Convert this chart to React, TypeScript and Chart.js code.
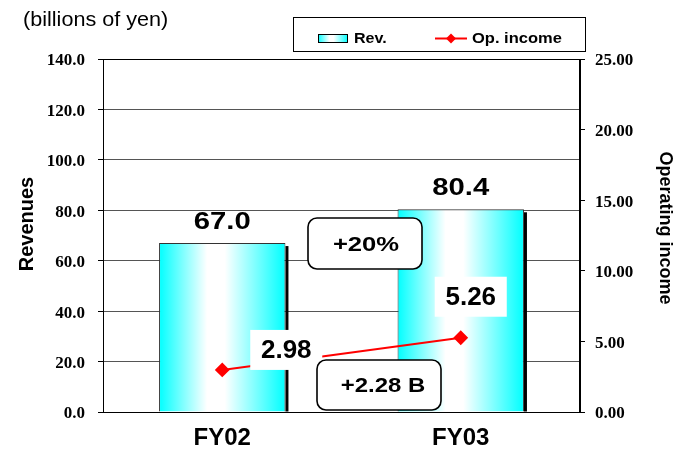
import React, { useEffect, useRef } from 'react';
import { Chart, registerables } from 'chart.js';

Chart.register(...registerables);

// ---- data ----
const categories = ['FY02', 'FY03'];
const revenues = [67.0, 80.4];
const operatingIncome = [2.98, 5.26];
const revenueAxis = { min: 0, max: 140, step: 20 };
const incomeAxis = { min: 0, max: 25, step: 5 };

const SANS = "'Liberation Sans', Arial, sans-serif";
const SERIF = "'Liberation Serif', 'Times New Roman', serif";
const BAR_PCT = 0.53;
const RED = '#FF0000';
const CYAN = '#00FFFF';

function barGradient(ctx: CanvasRenderingContext2D, x0: number, x1: number) {
  const g = ctx.createLinearGradient(x0, 0, x1, 0);
  g.addColorStop(0, CYAN);
  g.addColorStop(0.38, '#FFFFFF');
  g.addColorStop(0.52, '#FFFFFF');
  g.addColorStop(1, CYAN);
  return g;
}

// text drawn with an optional horizontal stretch
function drawText(
  ctx: CanvasRenderingContext2D,
  text: string,
  x: number,
  y: number,
  font: string,
  sx = 1,
  align: CanvasTextAlign = 'center',
  rotate = 0
) {
  ctx.save();
  ctx.translate(x, y);
  if (rotate) ctx.rotate(rotate);
  ctx.scale(sx, 1);
  ctx.font = font;
  ctx.fillStyle = '#000';
  ctx.textAlign = align;
  ctx.textBaseline = 'middle';
  ctx.fillText(text, 0, 0);
  ctx.restore();
}

function roundBox(ctx: CanvasRenderingContext2D, cx: number, cy: number, w: number, h: number, r: number) {
  const x = cx - w / 2;
  const y = cy - h / 2;
  ctx.save();
  ctx.beginPath();
  ctx.roundRect(x, y, w, h, r);
  ctx.fillStyle = '#FFFFFF';
  ctx.fill();
  ctx.lineWidth = 1.6;
  ctx.strokeStyle = '#000';
  ctx.stroke();
  ctx.restore();
}

function diamond(ctx: CanvasRenderingContext2D, x: number, y: number, r: number) {
  ctx.beginPath();
  ctx.moveTo(x, y - r);
  ctx.lineTo(x + r, y);
  ctx.lineTo(x, y + r);
  ctx.lineTo(x - r, y);
  ctx.closePath();
  ctx.fill();
}

const decorPlugin = {
  id: 'decor',
  beforeDatasetsDraw(chart: any) {
    // dark drop shadow on the right side of each bar
    const ctx = chart.ctx;
    const meta = chart.getDatasetMeta(1);
    ctx.save();
    ctx.fillStyle = '#000';
    meta.data.forEach((bar: any) => {
      const { x, y, base, width } = bar.getProps(['x', 'y', 'base', 'width'], true);
      ctx.fillRect(x + width / 2, y + 3, 3, base - y - 3);
    });
    ctx.restore();
  },
  afterDatasetsDraw(chart: any) {
    const ctx = chart.ctx;
    const bars = chart.getDatasetMeta(1).data;
    const pts = chart.getDatasetMeta(0).data;

    // revenue values above the bars
    bars.forEach((bar: any, i: number) => {
      drawText(ctx, revenues[i].toFixed(1), bar.x, bar.y - 21, `bold 24px ${SANS}`, 1.22);
    });

    // operating income values in white boxes
    const incomeOffsets = [
      { dx: 64, dy: -20 },
      { dx: 10, dy: -41 },
    ];
    pts.forEach((p: any, i: number) => {
      const cx = p.x + incomeOffsets[i].dx;
      const cy = p.y + incomeOffsets[i].dy;
      ctx.save();
      ctx.fillStyle = '#FFFFFF';
      ctx.fillRect(cx - 36, cy - 20, 72, 40);
      ctx.restore();
      drawText(ctx, operatingIncome[i].toFixed(2), cx, cy + 1, `bold 25px ${SANS}`, 1.04);
    });

    // growth callouts
    const growthPct = Math.round((revenues[1] / revenues[0] - 1) * 100);
    const incomeDiff = operatingIncome[1] - operatingIncome[0];
    roundBox(ctx, 365, 243.5, 114, 51, 9);
    drawText(ctx, `+${growthPct}%`, 366, 245, `bold 21px ${SANS}`, 1.22);
    roundBox(ctx, 379, 385, 124, 50, 9);
    drawText(ctx, `+${incomeDiff.toFixed(2)} B`, 383, 386, `bold 21px ${SANS}`, 1.14);
  },
  afterDraw(chart: any) {
    const ctx = chart.ctx;
    const a = chart.chartArea;

    // plot frame
    ctx.save();
    ctx.strokeStyle = '#000';
    ctx.lineWidth = 1;
    ctx.strokeRect(Math.round(a.left) + 0.5, Math.round(a.top) + 0.5, Math.round(a.right - a.left) - 1, Math.round(a.bottom - a.top));
    ctx.restore();

    // unit note and axis titles
    drawText(ctx, '(billions of yen)', 23, 20, `20px ${SANS}`, 1.08, 'left');
    drawText(ctx, 'Revenues', 27, 224, `bold 20px ${SANS}`, 1, 'center', -Math.PI / 2);
    drawText(ctx, 'Operating income', 665, 228, `bold 18px ${SANS}`, 1, 'center', Math.PI / 2);

    // legend
    ctx.save();
    ctx.fillStyle = '#FFFFFF';
    ctx.fillRect(293, 17, 293, 35);
    ctx.strokeStyle = '#000';
    ctx.lineWidth = 1;
    ctx.strokeRect(293.5, 17.5, 292, 34);
    ctx.fillStyle = barGradient(ctx, 318, 348);
    ctx.fillRect(318, 34, 30, 8);
    ctx.strokeRect(318.5, 34.5, 29, 8);
    ctx.strokeStyle = RED;
    ctx.lineWidth = 2;
    ctx.beginPath();
    ctx.moveTo(435, 38.5);
    ctx.lineTo(467, 38.5);
    ctx.stroke();
    ctx.fillStyle = RED;
    diamond(ctx, 451, 38.5, 5);
    ctx.restore();
    drawText(ctx, 'Rev.', 354, 39, `bold 15px ${SANS}`, 1.07, 'left');
    drawText(ctx, 'Op. income', 472, 39, `bold 15px ${SANS}`, 1.1, 'left');
  },
};

export default function App() {
  const ref = useRef<HTMLCanvasElement>(null);

  useEffect(() => {
    if (!ref.current) return;
    const chart = new Chart(ref.current, {
      type: 'bar',
      data: {
        labels: categories,
        datasets: [
          {
            type: 'line',
            label: 'Op. income',
            data: operatingIncome,
            yAxisID: 'y1',
            borderColor: RED,
            borderWidth: 2,
            pointStyle: 'rectRot',
            pointRadius: 6,
            pointBackgroundColor: RED,
            pointBorderColor: RED,
            order: 0,
          } as any,
          {
            type: 'bar',
            label: 'Rev.',
            data: revenues,
            yAxisID: 'y',
            barPercentage: BAR_PCT,
            categoryPercentage: 1,
            borderColor: '#333333',
            borderWidth: 1,
            order: 1,
            backgroundColor: (c: any) => {
              const xs = c.chart.scales?.x;
              if (!xs || c.dataIndex === undefined) return CYAN;
              const cx = xs.getPixelForValue(c.dataIndex);
              const w = (xs.width / categories.length) * BAR_PCT;
              if (!Number.isFinite(cx) || !Number.isFinite(w) || w <= 0) return CYAN;
              return barGradient(c.chart.ctx, cx - w / 2, cx + w / 2);
            },
          },
        ],
      },
      options: {
        responsive: false,
        animation: false,
        layout: { padding: { top: 59, left: 0, right: 0, bottom: 0 } },
        plugins: {
          legend: { display: false },
          tooltip: { enabled: false },
        },
        scales: {
          x: {
            grid: { display: false, drawTicks: false },
            border: { display: true, color: '#000', width: 1 },
            ticks: {
              color: '#000',
              font: { family: SANS, size: 24, weight: 'bold' },
              padding: 12,
            },
            afterFit: (s: any) => {
              s.height = 40;
            },
          },
          y: {
            position: 'left',
            min: revenueAxis.min,
            max: revenueAxis.max,
            grid: { color: '#555555', lineWidth: 1, tickLength: 5, tickColor: '#000' },
            border: { color: '#000', width: 1 },
            ticks: {
              stepSize: revenueAxis.step,
              color: '#000',
              font: { family: SERIF, size: 17, weight: 'bold' },
              padding: 13,
              labelOffset: 2,
              callback: (v: any) => Number(v).toFixed(1),
            },
            afterFit: (s: any) => {
              s.width = 103;
            },
          },
          y1: {
            position: 'right',
            min: incomeAxis.min,
            max: incomeAxis.max,
            grid: { drawOnChartArea: false, tickLength: 5, tickColor: '#000' },
            border: { color: '#000', width: 1 },
            ticks: {
              stepSize: incomeAxis.step,
              color: '#000',
              font: { family: SERIF, size: 17, weight: 'bold' },
              padding: 10,
              labelOffset: 2,
              callback: (v: any) => Number(v).toFixed(2),
            },
            afterFit: (s: any) => {
              s.width = 98;
            },
          },
        },
      },
      plugins: [decorPlugin],
    });
    return () => chart.destroy();
  }, []);

  return (
    <div style={{ position: 'fixed', left: 0, top: 0, width: 678, height: 452, background: '#fff' }}>
      <canvas ref={ref} width={678} height={452} />
    </div>
  );
}
